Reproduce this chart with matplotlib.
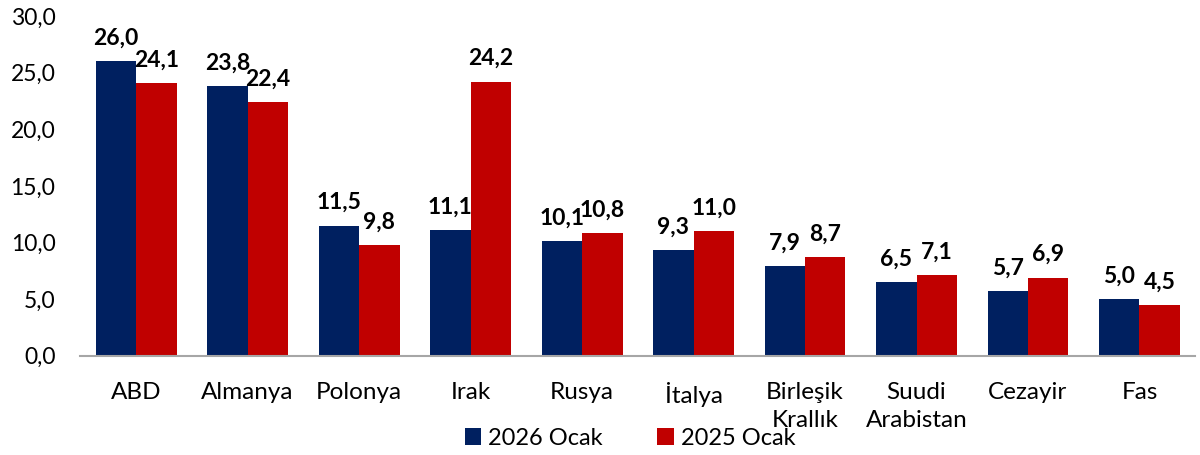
import numpy as np
import matplotlib
matplotlib.use("Agg")
import matplotlib.pyplot as plt

# ── Data ──────────────────────────────────────────────────────────────────────

COUNTRIES = ["ABD", "Almanya", "Polonya", "Irak", "Rusya", "İtalya",
             "Birleşik\nKrallık", "Suudi\nArabistan", "Cezayir", "Fas"]
OCAK_2026 = [26.0, 23.8, 11.5, 11.1, 10.1, 9.3, 7.9, 6.5, 5.7, 5.0]
OCAK_2025 = [24.1, 22.4, 9.8, 24.2, 10.8, 11.0, 8.7, 7.1, 6.9, 4.5]
SERIES_NAMES = ["2026 Ocak", "2025 Ocak"]
Y_TICKS = [0, 5, 10, 15, 20, 25, 30]

# ── Style ─────────────────────────────────────────────────────────────────────

NAVY = "#002060"
RED  = "#C00000"
plt.rcParams["font.family"] = ["Lato", "DejaVu Sans"]


def fmt(v):
    return f"{v:.1f}".replace(".", ",")


fig = plt.figure(figsize=(12, 4.55), dpi=100)
ax = fig.add_axes([0.067, 0.218, 0.929, 0.747])

x = np.arange(len(COUNTRIES))
w = 0.363
b1 = ax.bar(x - w / 2, OCAK_2026, w, color=NAVY, label=SERIES_NAMES[0])
b2 = ax.bar(x + w / 2, OCAK_2025, w, color=RED, label=SERIES_NAMES[1])

for bars, vals in ((b1, OCAK_2026), (b2, OCAK_2025)):
    for rect, v in zip(bars, vals):
        ax.annotate(fmt(v), (rect.get_x() + rect.get_width() / 2, v),
                    xytext=(0, 9), textcoords="offset points",
                    ha="center", va="bottom", fontsize=16.5, fontweight="bold")

ax.set_xlim(-0.5, len(COUNTRIES) - 0.5)
ax.set_ylim(0, 30)
ax.set_yticks(Y_TICKS)
ax.set_yticklabels([fmt(t) for t in Y_TICKS], fontsize=16.5)
ax.set_xticks(x)
ax.set_xticklabels(COUNTRIES, fontsize=17.5, linespacing=1.4)
ax.tick_params(axis="both", length=0)
ax.tick_params(axis="x", pad=19)
ax.tick_params(axis="y", pad=18)

for side in ("top", "right", "left"):
    ax.spines[side].set_visible(False)
ax.spines["bottom"].set_color("#A6A6A6")
ax.spines["bottom"].set_linewidth(1.5)

fig.legend(loc="center", bbox_to_anchor=(0.525, 0.037), ncol=2, frameon=False,
           fontsize=17, handlelength=0.7, handleheight=0.7, handletextpad=0.3,
           columnspacing=2.3)

fig.savefig("out.png", dpi=100)
